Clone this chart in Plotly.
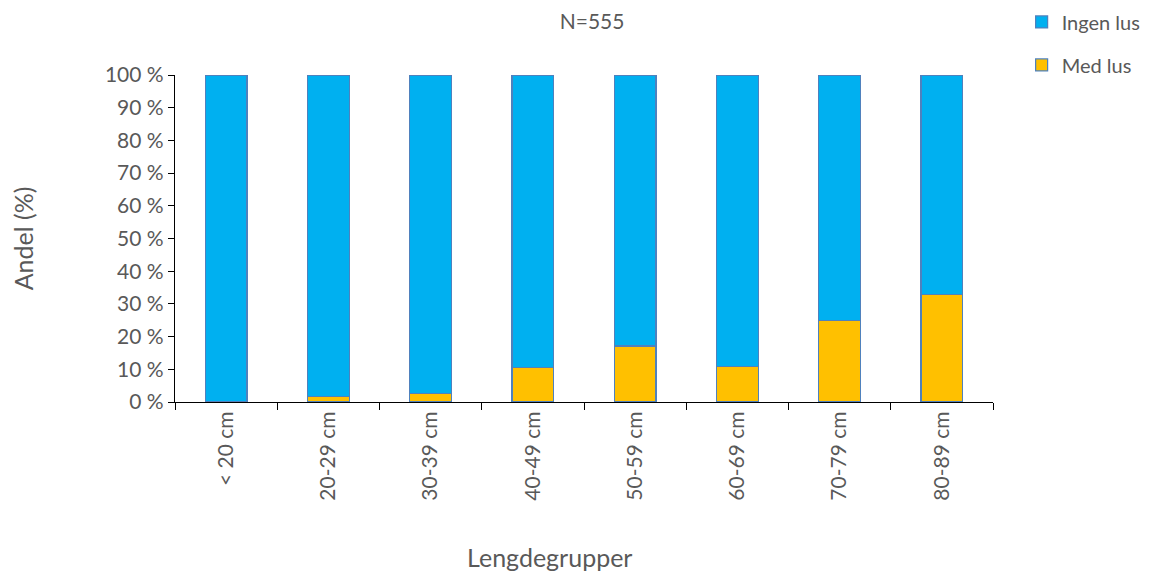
import plotly.graph_objects as go

categories = ["< 20 cm", "20-29 cm", "30-39 cm", "40-49 cm", "50-59 cm", "60-69 cm", "70-79 cm", "80-89 cm"]
med_lus = [0.0, 1.6, 2.7, 10.6, 17.1, 10.8, 24.9, 32.8]
ingen_lus = [100 - v for v in med_lus]

font_family = "Lato, 'Open Sans', sans-serif"
grey = "#595959"

fig = go.Figure()
fig.add_trace(go.Bar(
    x=categories, y=med_lus, name="Med lus", legendrank=2, legendgroup="b",
    marker=dict(color="#FFC000", line=dict(color="#4F81BD", width=1.2)),
))
fig.add_trace(go.Bar(
    x=categories, y=ingen_lus, name="Ingen lus", legendrank=1, legendgroup="a",
    marker=dict(color="#00B0F0", line=dict(color="#4F81BD", width=1.2)),
))

fig.update_layout(
    barmode="stack",
    bargap=0.59,
    width=1152, height=576,
    margin=dict(l=167, r=167, t=67, b=182, autoexpand=False),
    paper_bgcolor="white", plot_bgcolor="white",
    font=dict(family=font_family, size=21, color=grey),
    title=dict(text="N=555", x=0.507, xanchor="center",
               y=1 - 6 / 576, yref="container", yanchor="top",
               font=dict(size=21, color=grey)),
    legend=dict(x=1.035, xanchor="left", y=1.222, yanchor="top",
                traceorder="grouped", tracegroupgap=14,
                font=dict(size=20, color=grey), itemwidth=30),
    showlegend=True,
    annotations=[dict(text="Lengdegrupper", xref="paper", yref="paper",
                      x=0.458, y=-(557 - 8 - 394) / 327, xanchor="center", yanchor="middle",
                      showarrow=False, font=dict(size=25, color=grey))],
)
fig.update_yaxes(
    range=[0, 100], dtick=10, ticksuffix=" %", automargin=False,
    showline=True, linecolor="black", linewidth=1.2,
    ticks="outside", ticklen=6, tickcolor="black",
    showgrid=False, zeroline=False,
    title=dict(text="Andel (%)", font=dict(size=25, color=grey), standoff=77),
)
fig.update_xaxes(
    automargin=False,
    showline=True, linecolor="black", linewidth=1.2,
    ticks="outside", ticklen=7, tickcolor="black", tickson="boundaries",
    tickangle=-90, showgrid=False,
)

fig.write_html("out.html")
